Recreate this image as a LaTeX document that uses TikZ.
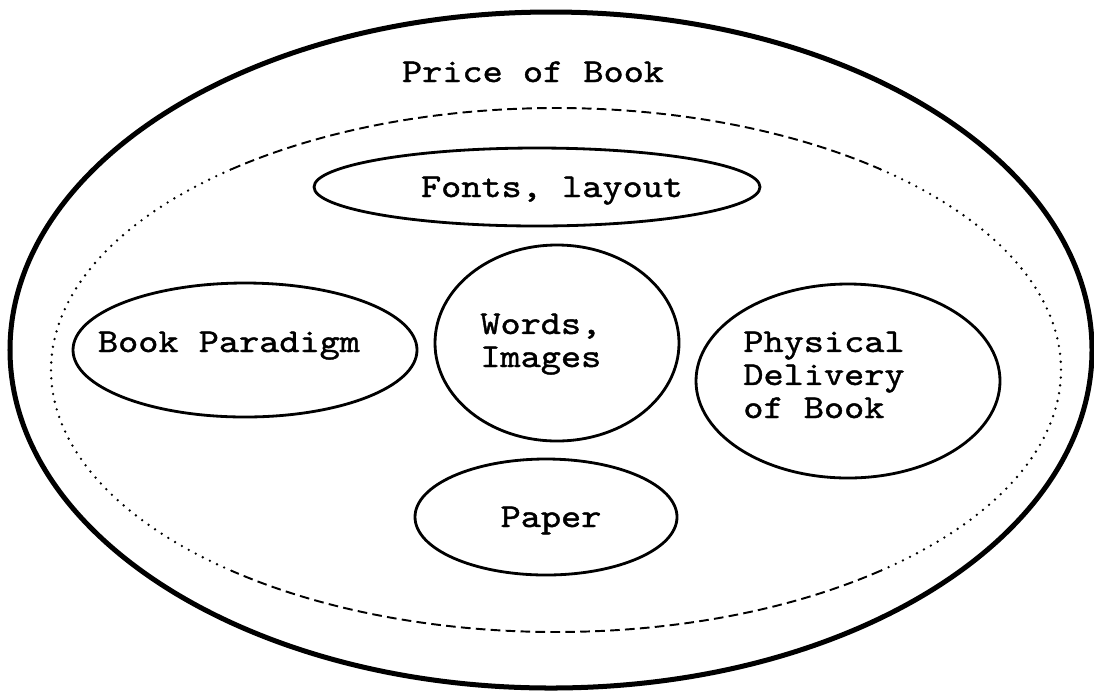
\documentclass[tikz,border=0pt]{standalone}
\usepackage{fontspec}
\newfontfamily\bookfont{lmmono10-regular.otf}[FakeStretch=1.15,FakeBold=1.3]
\usepackage{tikz}

\begin{document}
\begin{tikzpicture}[x=0.02cm,y=-0.02cm,
  font=\bookfont\fontsize{19pt}{18.8pt}\selectfont,
  every node/.style={inner sep=0pt},
  rim/.style={line width=2.85pt},
  bubble/.style={line width=1.6pt},
  zonedash/.style={line width=1.1pt,dash pattern=on 5.5pt off 3pt},
  zonedot/.style={line width=1.5pt,line cap=round,dash pattern=on 0pt off 4.5pt}]
\useasboundingbox (0,0) rectangle (1094,691);
% price (outer) and the dashed zone inside it
\draw[rim] (551,350) ellipse [x radius=541,y radius=338];
\coordinate (zone) at (556,370);
\foreach \a in {50,230}
  \draw[zonedash] (zone) ++(\a:505 and 262) arc[start angle=\a,delta angle=80,x radius=505,y radius=262];
\foreach \a in {130,310}
  \draw[zonedot] (zone) ++(\a:505 and 262) arc[start angle=\a,delta angle=100,x radius=505,y radius=262];
% the parts
\foreach \cx/\cy/\rx/\ry in {537/187/223/39, 245/350/172/67, 557/343/122/98, 848/381/152/97, 546/517/131/58}
  \draw[bubble] (\cx,\cy) ellipse [x radius=\rx,y radius=\ry];
\node[anchor=base] (price) at (533,82) {Price of Book};
\node[anchor=base] (fonts) at (552,197) {Fonts, layout};
\node[anchor=base] (paradigm) at (229,352) {Book Paradigm};
\node[anchor=base west,align=left] (words) at (480,367) {Words,\\Images};
\node[anchor=base west,align=left] (delivery) at (743,418) {Physical\\Delivery\\of Book};
\node[anchor=base] (paper) at (551,527) {Paper};
\end{tikzpicture}
\end{document}
